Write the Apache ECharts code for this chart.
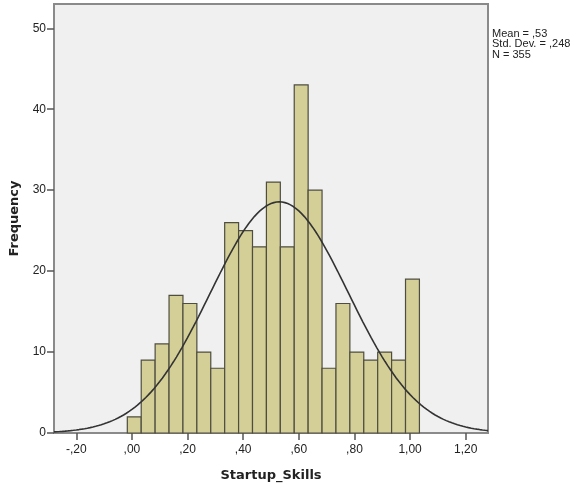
<!DOCTYPE html>
<html>
<head>
<meta charset="utf-8">
<script src="https://cdn.jsdelivr.net/npm/echarts@6/dist/echarts.min.js"></script>
<style>
  html, body { margin: 0; padding: 0; background: #ffffff; }
  #chart { width: 579px; height: 487px; }
</style>
</head>
<body>
<div id="chart"></div>
<script>
// Histogram of Startup_Skills with a fitted normal curve
var binStart = -0.0165;
var binWidth = 0.05;
var counts = [2, 9, 11, 17, 16, 10, 8, 26, 25, 23, 31, 23, 43, 30, 8, 16, 10, 9, 10, 9, 19];

// Summary statistics shown beside the plot
var statMean = 0.53;
var statSd = 0.248;
var statN = 355;

// Axis ranges and ticks
var xMin = -0.28, xMax = 1.28;
var xTicks = [-0.2, 0, 0.2, 0.4, 0.6, 0.8, 1.0, 1.2];
var yMin = 0, yMax = 53;
var yTicks = [0, 10, 20, 30, 40, 50];

// Bins as [left edge, right edge, count]
var bins = counts.map(function (c, i) {
  var a = binStart + i * binWidth;
  return [a, a + binWidth, c];
});

// Normal density scaled to frequency per bin, from the stated mean / sd / N
var curve = [];
for (var k = 0; k <= 156; k++) {
  var x = xMin + k * 0.01;
  var z = (x - statMean) / statSd;
  var y = statN * binWidth * Math.exp(-0.5 * z * z) / (statSd * Math.sqrt(2 * Math.PI));
  curve.push([x, y]);
}

// Decimal comma, no leading zero: 0.2 -> ",20", -0.2 -> "-,20", 1 -> "1,00"
function fmtComma(v, digits) {
  var s = Math.abs(v).toFixed(digits == null ? 2 : digits).split('.');
  var intPart = s[0] === '0' ? '' : s[0];
  return (v < -1e-9 ? '-' : '') + intPart + ',' + s[1];
}

var labelFont = 'Liberation Sans, Arial, sans-serif';
var titleFont = 'DejaVu Sans, sans-serif';

var chart = echarts.init(document.getElementById('chart'), null, { renderer: 'canvas' });
chart.setOption({
  animation: false,
  backgroundColor: '#ffffff',
  grid: {
    left: 53, right: 91, top: 4, bottom: 53,
    show: true,
    backgroundColor: '#f0f0f0',
    borderColor: '#8a8a8a',
    borderWidth: 2
  },
  xAxis: {
    type: 'value',
    min: xMin, max: xMax,
    name: 'Startup_Skills',
    nameLocation: 'middle',
    nameGap: 36,
    nameTextStyle: { fontFamily: titleFont, fontWeight: 'bold', fontSize: 13, color: '#222' },
    axisLine: { show: false, onZero: false },
    splitLine: { show: false },
    axisTick: {
      show: true, length: 7, inside: false,
      customValues: xTicks,
      lineStyle: { color: '#555', width: 1.5 }
    },
    axisLabel: {
      customValues: xTicks,
      margin: 11,
      fontFamily: labelFont, fontSize: 12, color: '#222',
      formatter: function (v) { return fmtComma(v, 2); }
    }
  },
  yAxis: {
    type: 'value',
    min: yMin, max: yMax,
    name: 'Frequency',
    nameLocation: 'middle',
    nameGap: 33,
    nameRotate: 90,
    nameTextStyle: { fontFamily: titleFont, fontWeight: 'bold', fontSize: 13, color: '#222' },
    axisLine: { show: false, onZero: false },
    splitLine: { show: false },
    axisTick: {
      show: true, length: 7,
      customValues: yTicks,
      lineStyle: { color: '#555', width: 1.5 }
    },
    axisLabel: {
      customValues: yTicks,
      margin: 8,
      fontFamily: labelFont, fontSize: 12, color: '#222'
    }
  },
  series: [
    {
      type: 'custom',
      data: bins,
      encode: { x: [0, 1], y: 2 },
      z: 2,
      renderItem: function (params, api) {
        var p0 = api.coord([api.value(0), api.value(2)]);
        var p1 = api.coord([api.value(1), 0]);
        return {
          type: 'rect',
          shape: { x: p0[0], y: p0[1], width: p1[0] - p0[0], height: p1[1] - p0[1] },
          style: { fill: '#d4cf97', stroke: '#4e4d40', lineWidth: 1.2 }
        };
      }
    },
    {
      type: 'line',
      data: curve,
      showSymbol: false,
      symbol: 'none',
      z: 3,
      clip: true,
      lineStyle: { color: '#333333', width: 1.6 }
    }
  ],
  graphic: [
    {
      type: 'text',
      left: 492,
      top: 28,
      style: {
        text: 'Mean = ' + fmtComma(statMean, 2) + '\nStd. Dev. = ' + fmtComma(statSd, 3) + '\nN = ' + statN,
        font: '11px ' + labelFont,
        lineHeight: 10.5,
        fill: '#222'
      }
    }
  ]
});
</script>
</body>
</html>
